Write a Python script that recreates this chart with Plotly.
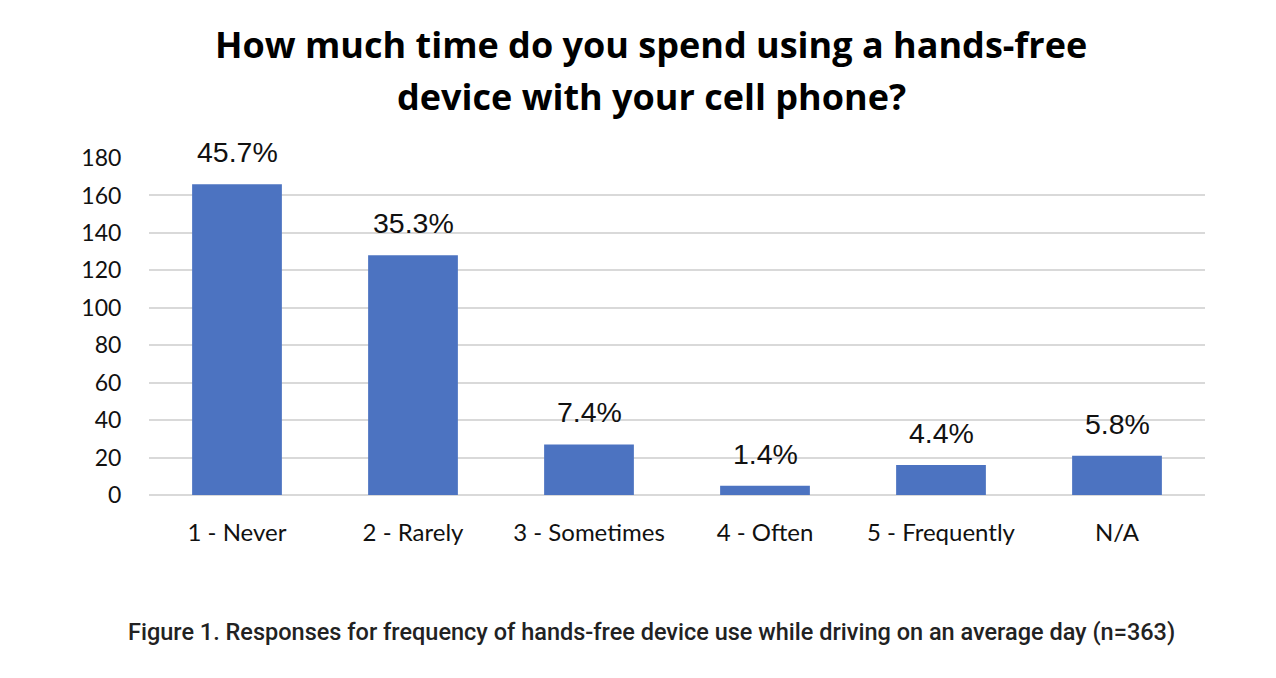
import plotly.graph_objects as go

categories = ["1 - Never", "2 - Rarely", "3 - Sometimes", "4 - Often", "5 - Frequently", "N/A"]
counts = [166, 128, 27, 5, 16, 21]
percent_labels = ["45.7%", "35.3%", "7.4%", "1.4%", "4.4%", "5.8%"]
y_ticks = [0, 20, 40, 60, 80, 100, 120, 140, 160, 180]

W, H = 1276, 678
OFF = 8  # page body offset
L, R, T, B = 149 - OFF, 1276 - 1205 + OFF, 158 - OFF, 678 - 495 + OFF
plot_h = H - T - B

def py(pix):
    return (H - B - (pix - OFF)) / plot_h

def px(pix):
    return ((pix - OFF) - L) / (W - L - R)

fig = go.Figure()
fig.add_trace(go.Bar(
    x=categories, y=counts,
    marker=dict(color="#4C73C1", line=dict(width=0)),
    width=0.51, hoverinfo="skip",
))

for c, v, t in zip(categories, counts, percent_labels):
    fig.add_annotation(x=c, y=v, text=t, showarrow=False, yanchor="middle", yshift=32,
                       font=dict(family="Liberation Sans, Arial", size=28.5, color="#111111"))

fig.add_annotation(xref="paper", yref="paper", x=px(651), y=py(44), text="<b>How much time do you spend using a hands-free</b>",
                   showarrow=False, xanchor="center", yanchor="middle",
                   font=dict(family="Open Sans", size=36, color="#000000"))
fig.add_annotation(xref="paper", yref="paper", x=px(651), y=py(96), text="<b>device with your cell phone?</b>",
                   showarrow=False, xanchor="center", yanchor="middle",
                   font=dict(family="Open Sans", size=36, color="#000000"))
fig.add_annotation(xref="paper", yref="paper", x=px(651), y=py(632),
                   text="Figure 1. Responses for frequency of hands-free device use while driving on an average day (n=363)",
                   showarrow=False, xanchor="center", yanchor="middle",
                   font=dict(family="Roboto", size=23.5, weight=500, color="#222222"))

fig.update_layout(
    width=W, height=H,
    margin=dict(l=L, r=R, t=T, b=B, autoexpand=False),
    paper_bgcolor="white", plot_bgcolor="white",
    showlegend=False, bargap=0.49,
)
fig.update_xaxes(showgrid=False, showline=False, ticks="outside", ticklen=16, tickcolor="rgba(0,0,0,0)",
                 tickfont=dict(family="Lato", size=24, color="#111111"))
fig.update_yaxes(range=[0, 180], tickvals=y_ticks, showgrid=True, gridcolor="#d9d9d9", gridwidth=2,
                 zeroline=True, zerolinecolor="#d9d9d9", zerolinewidth=2,
                 ticks="outside", ticklen=22, tickcolor="rgba(0,0,0,0)",
                 tickfont=dict(family="Lato", size=23, color="#111111"))

fig.write_html("out.html")
